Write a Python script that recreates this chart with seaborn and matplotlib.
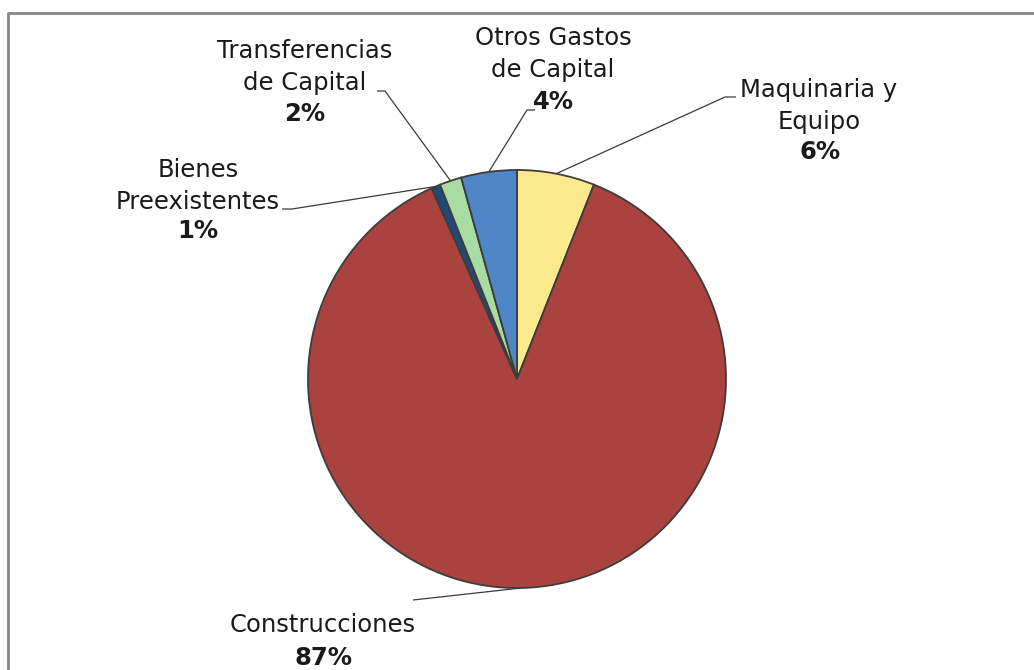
import numpy as np
import matplotlib
matplotlib.use("Agg")
import matplotlib.pyplot as plt
import seaborn as sns

# data (clockwise from 12 o'clock)
categories = ["Maquinaria y\nEquipo", "Construcciones", "Bienes\nPreexistentes",
              "Transferencias\nde Capital", "Otros Gastos\nde Capital"]
shares = [6.0, 87.3, 0.7, 1.7, 4.3]
colors = ["#FDEA8E", "#AA433F", "#1F4A78", "#A9DCA3", "#4F86C8"]

# label placement (pixels): name centre, pct centre, leader elbow, leader end
name_pos = [(819, 106), (323, 625), (198, 186), (305, 67), (553, 54)]
pct_pos = [(820, 152), (323, 658), (198, 231), (305, 114), (553, 102)]
elbow_pos = [(725, 97), (413, 600), (292, 209), (385, 91), (527, 110)]
end_pos = [(736, 97), (413, 600), (282, 209), (377, 91), (535, 110)]

sns.set_theme(style="white")
plt.rcParams["font.family"] = ["DejaVu Sans"]

W, H = 1034, 670
CX, CY, R = 517, 379, 209


def px(x, y):
    return (x - CX) / R, (CY - y) / R


fig = plt.figure(figsize=(W / 100, H / 100), dpi=100)
ax = fig.add_axes([0, 0, 1, 1])

wedges, _ = ax.pie(shares, colors=colors, startangle=90, counterclock=False,
                   radius=1, center=(0, 0),
                   wedgeprops=dict(edgecolor="#3c3c3c", linewidth=1.3))

ax.set_xlim(-CX / R, (W - CX) / R)
ax.set_ylim(-(H - CY) / R, CY / R)
ax.set_aspect("auto")
ax.axis("off")

total = sum(shares)
for w, name, npos, ppos, el, en, v in zip(wedges, categories, name_pos, pct_pos,
                                          elbow_pos, end_pos, shares):
    mid = np.deg2rad((w.theta1 + w.theta2) / 2)
    sx, sy = np.cos(mid), np.sin(mid)
    ex, ey = px(*el)
    fx, fy = px(*en)
    ax.plot([sx, ex, fx], [sy, ey, fy], color="#3a3a3a", lw=0.9,
            solid_capstyle="butt")
    ax.text(*px(*npos), name, ha="center", va="center", fontsize=17.5,
            color="#1a1a1a", linespacing=1.4)
    ax.text(*px(*ppos), f"{round(v / total * 100)}%", ha="center", va="center",
            fontsize=17.5, fontweight="bold", color="#1a1a1a")

# chart frame (left and top edges visible)
bx0, by0 = px(8, 13)
bx1, by1 = px(W + 5, H + 5)
ax.plot([bx0, bx0, bx1], [by1, by0, by0], color="#878787", lw=2.0,
        clip_on=False)

fig.savefig("out.png", dpi=100)
